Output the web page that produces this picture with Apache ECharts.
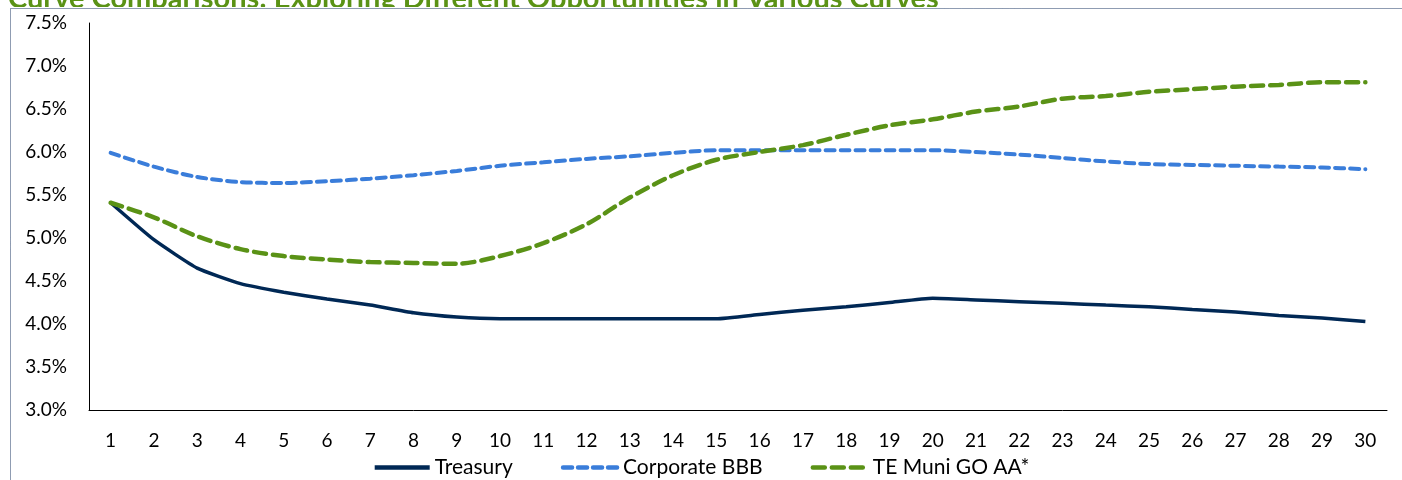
<!DOCTYPE html>
<html>
<head>
<meta charset="utf-8">
<script src="https://cdn.jsdelivr.net/npm/echarts@6/dist/echarts.min.js"></script>
<style>
  html, body { margin: 0; padding: 0; background: #fff; }
  #chart { width: 1402px; height: 480px; }
</style>
</head>
<body>
<div id="chart"></div>
<script>
// maturity in years
var years = ['1','2','3','4','5','6','7','8','9','10','11','12','13','14','15',
             '16','17','18','19','20','21','22','23','24','25','26','27','28','29','30'];
// yields (%)
var treasury = [5.41, 4.98, 4.65, 4.47, 4.37, 4.29, 4.22, 4.13, 4.08, 4.06,
                4.06, 4.06, 4.06, 4.06, 4.06, 4.11, 4.16, 4.20, 4.25, 4.30,
                4.28, 4.26, 4.24, 4.22, 4.20, 4.17, 4.14, 4.10, 4.07, 4.03];
var corporateBBB = [5.99, 5.83, 5.71, 5.65, 5.64, 5.66, 5.69, 5.73, 5.78, 5.84,
                    5.88, 5.92, 5.95, 5.99, 6.02, 6.02, 6.02, 6.02, 6.02, 6.02,
                    6.00, 5.97, 5.93, 5.89, 5.86, 5.85, 5.84, 5.83, 5.82, 5.80];
var teMuni = [5.41, 5.24, 5.02, 4.87, 4.79, 4.75, 4.72, 4.71, 4.70, 4.79,
              4.94, 5.16, 5.47, 5.73, 5.91, 6.00, 6.08, 6.20, 6.31, 6.38,
              6.47, 6.53, 6.62, 6.65, 6.70, 6.73, 6.76, 6.78, 6.81, 6.81];

var font = 'Lato, "Open Sans", sans-serif';
var chart = echarts.init(document.getElementById('chart'));

var option = {
  animation: false,
  textStyle: { fontFamily: font },
  title: {
    text: 'Curve Comparisons: Exploring Different Opportunities in Various Curves',
    left: 3,
    top: -21,
    textStyle: { color: '#5A9216', fontSize: 29, fontWeight: 'bold', fontFamily: font }
  },
  graphic: [
    {
      // title is cut by the chart box, as in the source
      type: 'rect',
      silent: true,
      z: 100,
      shape: { x: 0, y: 7, width: 1402, height: 8 },
      style: { fill: '#fff' }
    },
    {
      type: 'rect',
      silent: true,
      z: 101,
      shape: { x: 10.5, y: 8.5, width: 1420, height: 500 },
      style: { fill: 'none', stroke: '#1F3864', lineWidth: 1, lineDash: [1, 1] }
    }
  ],
  grid: { left: 89, right: 15, top: 23, bottom: 70, containLabel: false },
  legend: {
    bottom: -3,
    left: 'center',
    itemWidth: 55,
    itemHeight: 14,
    itemGap: 48,
    itemStyle: { opacity: 0 },
    lineStyle: { width: 4.5 },
    textStyle: { fontSize: 21, color: '#000', fontFamily: font },
    data: ['Treasury', 'Corporate BBB', 'TE Muni GO AA*']
  },
  xAxis: {
    type: 'category',
    data: years,
    boundaryGap: true,
    axisLine: { lineStyle: { color: '#000', width: 1 } },
    axisTick: { show: false },
    axisLabel: { color: '#000', fontSize: 19, margin: 21, interval: 0 }
  },
  yAxis: {
    type: 'value',
    min: 3,
    max: 7.5,
    interval: 0.5,
    axisLine: { show: true, lineStyle: { color: '#000', width: 1 } },
    axisTick: { show: false },
    splitLine: { show: false },
    axisLabel: {
      color: '#000', fontSize: 19, margin: 22,
      formatter: function (v) { return v.toFixed(1) + '%'; }
    }
  },
  series: [
    {
      name: 'Treasury',
      type: 'line',
      data: treasury,
      symbol: 'none',
      smooth: 0.15,
      lineStyle: { color: '#002855', width: 3.5 },
      itemStyle: { color: '#002855' }
    },
    {
      name: 'Corporate BBB',
      type: 'line',
      data: corporateBBB,
      symbol: 'none',
      smooth: 0.3,
      lineStyle: { color: '#3A7DDA', width: 4, type: [9, 6], cap: 'round' },
      itemStyle: { color: '#3A7DDA' }
    },
    {
      name: 'TE Muni GO AA*',
      type: 'line',
      data: teMuni,
      symbol: 'none',
      smooth: 0.3,
      lineStyle: { color: '#5A9216', width: 4.5, type: [12, 7], cap: 'round' },
      itemStyle: { color: '#5A9216' }
    }
  ]
};
chart.setOption(option);
</script>
</body>
</html>
